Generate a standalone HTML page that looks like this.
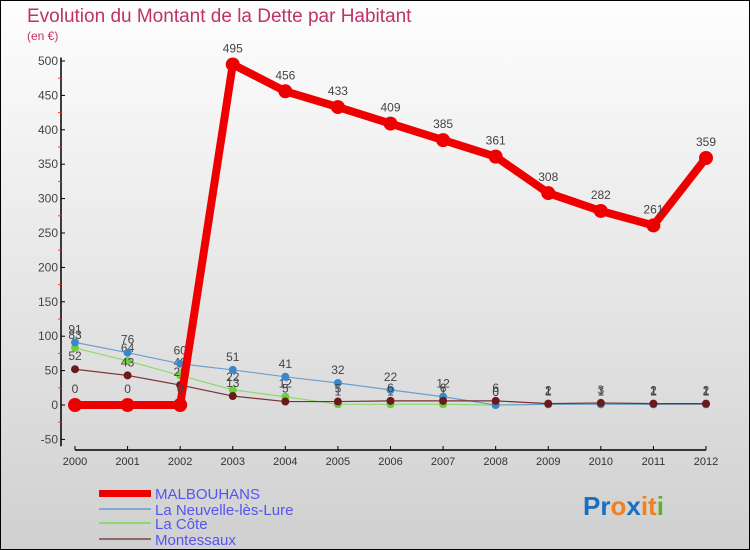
<!DOCTYPE html>
<html><head><meta charset="utf-8"><style>
html,body{margin:0;padding:0}
body{width:750px;height:550px;overflow:hidden;font-family:"Liberation Sans",sans-serif}
#wrap{position:absolute;left:0;top:0;width:748px;height:548px;border:1px solid #000;background:linear-gradient(#fefefe,#d0d0d0)}
</style></head><body>
<div id="wrap">
<svg id="chart" width="748" height="548" viewBox="1 1 748 548" style="position:absolute;left:0;top:0">
<text x="27" y="22" font-size="19" fill="#c0306a">Evolution du Montant de la Dette par Habitant</text>
<text x="27" y="40" font-size="12" fill="#c0306a">(en €)</text>
<g id="axes"></g><g id="series"></g>
<g>
<rect x="99" y="490" width="52" height="7" fill="#e00"/>
<text x="155" y="499" font-size="15" fill="#5555ee">MALBOUHANS</text>
<rect x="99" y="508" width="52" height="2" fill="#80a8d0"/>
<text x="155" y="515" font-size="15" fill="#5555ee">La Neuvelle-lès-Lure</text>
<rect x="99" y="522" width="52" height="2" fill="#90d870"/>
<text x="155" y="529" font-size="15" fill="#5555ee">La Côte</text>
<rect x="99" y="538" width="52" height="2" fill="#906868"/>
<text x="155" y="545" font-size="15" fill="#5555ee">Montessaux</text>
</g>
<text x="583" y="515" font-size="26" font-weight="bold"><tspan fill="#1a70c0">Pr</tspan><tspan fill="#f08020">o</tspan><tspan fill="#1a70c0">x</tspan><tspan fill="#f08020">it</tspan><tspan fill="#60b030">i</tspan></text>
</svg>
</div>
<script>
const years=[2000,2001,2002,2003,2004,2005,2006,2007,2008,2009,2010,2011,2012];
const malbouhans=[0,0,0,495,456,433,409,385,361,308,282,261,359];
const neuvelle=[91,76,60,51,41,32,22,12,0,1,1,1,1];
const cote=[83,64,43,22,12,1,1,1,0,1,1,1,1];
const montessaux=[52,43,29,13,5,5,6,6,6,2,3,2,2];
const yTicks=[-50,0,50,100,150,200,250,300,350,400,450,500];
const NS="http://www.w3.org/2000/svg";
const xs=i=>75+i*(706-75)/12;
const ys=v=>405-v*0.688;
function mk(tag,attrs,parent){const e=document.createElementNS(NS,tag);for(const k in attrs)e.setAttribute(k,attrs[k]);parent.appendChild(e);return e;}
const ax=document.getElementById('axes');
let yl=mk('line',{x1:61,y1:ys(505),x2:61,y2:ys(-60),stroke:'#000','stroke-width':1.5},ax);


let xl=mk('line',{x1:xs(0),y1:450,x2:xs(12),y2:450,stroke:'#000','stroke-width':1.5},ax);


yTicks.forEach(v=>{
  mk('line',{x1:61,y1:ys(v),x2:65,y2:ys(v),stroke:'#000'},ax);
  const t=mk('text',{x:58,y:ys(v)+4,'font-size':12,fill:'#444','text-anchor':'end'},ax);t.textContent=v;
  
  
  if(v<500) mk('line',{x1:58,y1:ys(v+25),x2:61,y2:ys(v+25),stroke:'#f33'},ax);
});
years.forEach((y,i)=>{
  mk('line',{x1:xs(i),y1:446,x2:xs(i),y2:450,stroke:'#000'},ax);
  const t=mk('text',{x:xs(i),y:465,'font-size':11,fill:'#333','text-anchor':'middle'},ax);t.textContent=y;
  
  
});
const sg=document.getElementById('series');
function draw(name,data,color,w,r,mcolor){
  const g=mk('g',{},sg);
  
  
  const pts=data.map((v,i)=>xs(i)+','+ys(v)).join(' ');
  mk('polyline',{points:pts,fill:'none',stroke:color,'stroke-width':w,'stroke-linejoin':'round'},g);
  data.forEach((v,i)=>{
    const c=mk('circle',{cx:xs(i),cy:ys(v),r:r,fill:mcolor},g);
    
    
    const t=mk('text',{x:xs(i),y:ys(v)-(r+5),'font-size':12,fill:'#444','text-anchor':'middle'},g);t.textContent=v;
  });
}
draw('cote',cote,'#90d870',1.2,4,'#70cc40');
draw('neuvelle',neuvelle,'#6aa0d0',1.2,4,'#3a88cc');
draw('montessaux',montessaux,'#7a3030',1.2,4,'#6a1a1a');
draw('malbouhans',malbouhans,'#ee0000',8,7,'#ee0000');
</script>
</body></html>
